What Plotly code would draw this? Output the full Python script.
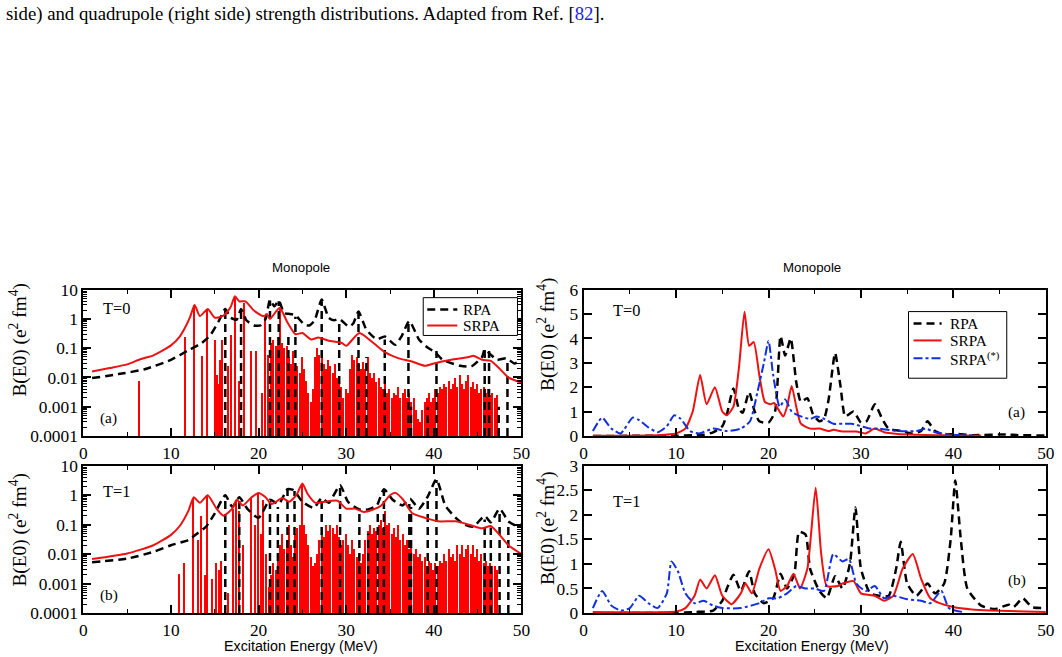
import plotly.graph_objects as go

# Figure size; the page photographed adds the browser's 8px body margin and is
# then fitted back to 1062x657, so layout positions (given in final picture
# pixels) are mapped through that transform.
W, H = 1062, 657
BODY_MARGIN = 8
KX = (W + 2 * BODY_MARGIN) / W
KY = (H + 2 * BODY_MARGIN) / H
FS = (KX + KY) / 2  # font compensation
X_NUDGE = 2

# ---------------- data ----------------
ENERGY_TICKS = [0, 10, 20, 30, 40, 50]
LOG_TICKVALS = [1e-4, 1e-3, 1e-2, 1e-1, 1, 10]
LOG_TICKTEXT = ["0.0001", "0.001", "0.01", "0.1", "1", "10"]
LIN_A_TICKS = [0, 1, 2, 3, 4, 5, 6]
LIN_B_TICKS = [0, 0.5, 1, 1.5, 2, 2.5, 3]
LIN_B_TICKTEXT = ["0", "0.5", "1", "1.5", "2", "2.5", "3"]

# ---- left (a), T=0, log scale ----
LA_RPA_E = [1, 4, 7, 10, 12, 13.5, 14.5, 15.5, 16.2, 16.8, 17.5, 18.0, 18.6, 19.5, 20.2, 20.8, 21.3, 21.8,
            22.3, 22.9, 23.4, 24.2, 25.2, 25.8, 26.4, 27.2, 28.0, 28.6, 29.2, 30.3, 30.8, 31.4, 32.3, 33.5,
            34.4, 35.6, 36.3, 37.2, 38.3, 39.2, 40.2, 41.0, 43.0, 44.3, 45.5, 45.8, 46.5, 47.2, 48.3, 49.2, 50]
LA_RPA_B = [0.0095, 0.013, 0.019, 0.04, 0.085, 0.15, 0.28, 0.9, 2.2, 1.1, 0.95, 2.2, 0.9, 0.6, 0.6, 1.0, 4.5, 2.7,
            4.3, 1.6, 1.5, 1.35, 0.65, 0.6, 0.9, 4.6, 1.1, 0.9, 1.0, 0.55, 0.7, 1.8, 0.43, 0.2,
            0.25, 0.13, 0.25, 0.85, 0.2, 0.11, 0.07, 0.04, 0.025, 0.024, 0.05, 0.09, 0.06, 0.04, 0.045, 0.03, 0.04]
LA_SRPA_E = [1, 3, 5, 6.5, 8, 10, 11, 11.6, 12.2, 12.7, 13.3, 14.2, 15, 16, 16.8, 17.3, 17.8, 18.5, 19.5,
             20.5, 21.0, 21.3, 22.4, 23.3, 24.2, 25, 26, 26.8, 28, 29.5, 30, 31.5, 33, 34.5, 36, 37.5, 39,
             40, 42, 44, 44.5, 45.5, 46.5, 47.5, 48.5, 50]
LA_SRPA_B = [0.016, 0.021, 0.028, 0.042, 0.057, 0.125, 0.25, 0.5, 1.2, 3.0, 1.25, 2.2, 1.1, 1.3, 2.5, 6.0, 4.0,
             4.0, 1.9, 1.25, 1.4, 1.0, 2.4, 0.75, 0.3, 0.33, 0.2, 0.23, 0.18, 0.15, 0.12, 0.33, 0.16, 0.07,
             0.045, 0.035, 0.025, 0.03, 0.04, 0.05, 0.055, 0.04, 0.037, 0.02, 0.01, 0.0065]
LA_RPA_STATES_E = [16.2, 18.0, 21.3, 22.3, 23.4, 24.2, 27.2, 29.2, 31.4, 32.3, 34.4, 37.1, 37.4, 39.3, 40.3,
                   45.8, 46.3, 47.4, 48.4]
LA_RPA_STATES_B = [2.0, 2.0, 4.3, 4.0, 0.35, 1.2, 4.0, 0.9, 1.5, 0.05, 0.2, 0.85, 0.001, 0.001, 0.08,
                   0.09, 0.08, 0.001, 0.04]
LA_SRPA_STATES_E = [6.4, 11.7, 12.7, 13.6, 14.2, 15.1, 15.3, 15.5, 15.7, 15.9, 16.6, 16.9, 17.4, 17.8, 18.4,
                    19.2, 19.8, 20.4, 20.8, 21.1]
LA_SRPA_STATES_B = [0.008, 0.25, 3.0, 0.055, 2.0, 0.2, 0.012, 0.006, 0.04, 0.2, 0.025, 0.3, 5.5, 0.008, 3.5,
                    0.08, 0.08, 0.003, 1.2, 0.06]
DENSE_START = 21.25
DENSE_STEP = 0.25
LA_DENSE_B = [0.002, 0.15, 0.2, 0.12, 0.25, 2.2, 0.15, 0.1, 0.12, 0.05, 0.03, 0.08, 0.02, 0.025, 0.015, 0.05,
              0.02, 0.008, 0.003, 0.0015, 0.004, 0.05, 0.1, 0.06, 0.08, 0.03, 0.02, 0.04, 0.025, 0.015, 0.03,
              0.01, 0.006, 0.005, 0.002, 0.004, 0.003, 0.02, 0.06, 0.04, 0.05, 0.03, 0.02, 0.035, 0.02, 0.05,
              0.015, 0.01, 0.015, 0.007, 0.01, 0.005, 0.004, 0.006, 0.003, 0.004, 0.002, 0.003, 0.0025, 0.005,
              0.002, 0.003, 0.004, 0.002, 0.003, 0.0015, 0.002, 0.0008, 0.0004, 0.0003, 0.0008, 0.0015, 0.002,
              0.003, 0.0015, 0.002, 0.004, 0.003, 0.005, 0.004, 0.006, 0.005, 0.008, 0.004, 0.006, 0.01, 0.005,
              0.012, 0.006, 0.004, 0.008, 0.012, 0.005, 0.007, 0.004, 0.006, 0.003, 0.004, 0.005, 0.003, 0.004,
              0.0025, 0.003, 0.002, 0.0025]

# ---- left (b), T=1, log scale ----
LB_RPA_E = [1, 5, 8, 10, 12, 13, 14, 15, 16.2, 17, 17.8, 18.7, 20, 21.3, 22.3, 23.3, 24, 25, 26.3, 27.2, 28,
            29.3, 30.2, 31.5, 32.5, 33.5, 34.3, 35.3, 36.4, 37.3, 38.3, 39.3, 40.3, 41.3, 42.5, 43.5, 44.5,
            45.8, 46.5, 47.5, 48.5, 49.5, 50]
LB_RPA_B = [0.0053, 0.007, 0.012, 0.02, 0.03, 0.05, 0.085, 0.24, 1.0, 0.4, 0.85, 0.35, 0.17, 0.7, 0.5, 1.6, 1.5,
            0.6, 0.37, 0.8, 0.55, 2.2, 0.6, 0.33, 0.33, 0.45, 1.6, 0.7, 0.45, 0.75, 0.35, 0.9, 3.5, 0.45, 0.17,
            0.1, 0.085, 0.2, 0.12, 0.35, 0.13, 0.09, 0.1]
LB_SRPA_E = [1, 5, 8, 10, 11, 12, 12.6, 13.3, 14.2, 15.2, 16, 17, 17.5, 18.2, 19.2, 20, 20.8, 21.5, 22.7, 23.5,
             24.3, 25, 25.6, 26.5, 27.5, 29, 30, 31, 32, 33, 34, 35, 35.6, 36.5, 37.5, 39, 40.5, 42.5, 44,
             45.5, 46.5, 47.5, 48.5, 50]
LB_SRPA_B = [0.0068, 0.0105, 0.02, 0.045, 0.09, 0.3, 0.85, 0.55, 1.0, 0.35, 0.2, 0.35, 0.7, 0.45, 0.85, 1.2,
             0.85, 0.5, 0.8, 0.6, 1.0, 2.5, 1.1, 0.55, 0.6, 0.65, 0.35, 0.35, 0.27, 0.32, 0.45, 1.0, 1.2, 0.7,
             0.25, 0.17, 0.13, 0.13, 0.1, 0.075, 0.09, 0.045, 0.02, 0.01]
LB_RPA_STATES_E = [16.2, 17.8, 21.3, 22.2, 23.3, 24.1, 27.2, 29.3, 31.5, 32.5, 33.6, 34.3, 37.2, 37.4, 39.3,
                   40.3, 45.8, 46.5, 47.5, 48.5]
LB_RPA_STATES_B = [1.0, 0.85, 0.7, 0.4, 1.5, 1.4, 0.7, 2.0, 0.3, 0.05, 0.3, 1.5, 0.5, 0.4, 0.8,
                   3.3, 0.15, 0.08, 0.3, 0.1]
LB_SRPA_STATES_E = [11.0, 11.5, 12.6, 13.2, 13.5, 13.9, 14.2, 14.8, 15.2, 15.5, 15.8, 16.6, 17.1, 17.5, 17.8,
                    18.3, 19.2, 19.6, 20.0, 20.3, 20.6, 20.9]
LB_SRPA_STATES_B = [0.0022, 0.005, 0.85, 0.03, 0.2, 0.002, 1.0, 0.0015, 0.005, 0.003, 0.006, 0.0005, 0.35, 0.7,
                    0.3, 0.02, 0.8, 0.1, 1.1, 0.05, 0.7, 0.01]
LB_DENSE_B = [0.0008, 0.002, 0.005, 0.003, 0.01, 0.02, 0.05, 0.015, 0.03, 0.1, 0.02, 0.008, 0.05, 0.08, 0.1,
              2.3, 0.1, 0.05, 0.02, 0.008, 0.004, 0.005, 0.01, 0.03, 0.05, 0.04, 0.1, 0.06, 0.1, 0.08, 0.05,
              0.1, 0.04, 0.02, 0.03, 0.05, 0.02, 0.01, 0.03, 0.015, 0.008, 0.01, 0.005, 0.01, 0.03, 0.06, 0.1,
              0.05, 0.08, 0.06, 0.1, 0.15, 0.08, 0.3, 0.1, 0.12, 0.05, 0.08, 0.04, 0.1, 0.03, 0.05, 0.02, 0.03,
              0.015, 0.02, 0.01, 0.015, 0.008, 0.01, 0.006, 0.008, 0.004, 0.006, 0.005, 0.003, 0.005, 0.004,
              0.006, 0.005, 0.01, 0.006, 0.015, 0.008, 0.01, 0.006, 0.02, 0.01, 0.02, 0.008, 0.015, 0.02, 0.01,
              0.02, 0.008, 0.015, 0.006, 0.01, 0.005, 0.006, 0.004, 0.005, 0.004, 0.004, 0.003]

# ---- right (a), T=0, linear ----
RA_RPA_E = [1, 10, 12, 13, 14, 15, 15.5, 16.2, 16.8, 17.2, 17.9, 18.5, 19, 20, 20.7, 21.3, 21.8, 22.4, 23, 23.5,
            24.2, 24.8, 25.5, 26, 26.5, 27.2, 27.8, 28.3, 29.2, 30, 30.6, 31.5, 32.3, 33, 34.4, 35.5, 36.5, 37.2,
            38, 39, 40.3, 42, 45.8, 47, 50]
RA_RPA_B = [0.0, 0.01, 0.03, 0.05, 0.15, 0.4, 0.9, 1.95, 1.1, 0.95, 1.8, 1.0, 0.6, 0.55, 1.0, 4.1, 3.3, 4.0, 2.2,
            1.4, 1.55, 0.9, 0.6, 0.7, 1.5, 3.4, 2.0, 0.8, 1.0, 0.55, 0.6, 1.3, 0.7, 0.3, 0.2, 0.1, 0.2, 0.6, 0.2,
            0.05, 0.08, 0.03, 0.06, 0.03, 0.02]
RA_SRPA_E = [1, 8, 10, 11, 11.8, 12.6, 13.3, 14.2, 15, 15.5, 16.2, 16.8, 17.4, 17.9, 18.4, 19, 19.6, 20.2, 20.6,
             21.2, 21.6, 22, 22.5, 23, 23.5, 24.5, 25.5, 26.5, 27, 28, 29.5, 30.5, 31.5, 32.5, 34, 36, 38, 40, 43]
RA_SRPA_B = [0.01, 0.03, 0.1, 0.3, 1.0, 2.5, 1.3, 2.0, 1.0, 0.85, 1.2, 2.8, 5.1, 3.7, 3.85, 2.5, 1.4, 1.3, 1.35,
             1.0, 0.8, 1.2, 2.05, 1.2, 0.5, 0.3, 0.3, 0.2, 0.25, 0.18, 0.18, 0.1, 0.3, 0.15, 0.08, 0.05, 0.03,
             0.02, 0.01]
RA_SRPAS_E = [1, 2, 3, 4, 5.3, 6, 7, 8, 9, 9.8, 10.5, 11.5, 12.5, 14, 15.5, 17, 18, 18.8, 19.5, 20, 20.5, 21.2,
              21.8, 22.5, 23.5, 24.5, 25.2, 26, 27, 28, 29, 30, 31, 32, 34, 36, 37, 38, 40, 42]
RA_SRPAS_B = [0.2, 0.75, 0.3, 0.1, 0.75, 0.65, 0.35, 0.15, 0.4, 0.85, 0.7, 0.2, 0.1, 0.3, 0.2, 0.3, 0.6, 1.8, 3.0,
              3.9, 2.5, 1.2, 1.5, 1.0, 0.8, 0.7, 0.8, 0.7, 0.5, 0.5, 0.5, 0.4, 0.3, 0.3, 0.2, 0.2, 0.3, 0.15,
              0.05, 0.02]

# ---- right (b), T=1, linear ----
RB_RPA_E = [1, 10, 12, 14, 15, 15.5, 16.2, 17, 17.9, 18.5, 19.5, 20.5, 21.3, 22, 22.8, 23.3, 24, 24.5, 25.5,
            26.3, 27.2, 28, 28.8, 29.4, 30, 31, 32, 33, 33.8, 34.3, 35, 36, 37.2, 38, 39, 39.7, 40.2, 40.8,
            41.5, 43, 44.5, 46, 46.5, 47.5, 48.5, 50]
RB_RPA_B = [0.0, 0.0, 0.02, 0.05, 0.25, 0.5, 0.78, 0.45, 0.85, 0.4, 0.2, 0.3, 0.8, 0.5, 0.8, 1.65, 1.6, 0.9,
            0.45, 0.3, 0.75, 0.5, 1.0, 2.15, 0.9, 0.4, 0.35, 0.35, 0.9, 1.45, 0.6, 0.35, 0.6, 0.4, 0.6, 1.5,
            2.7, 1.5, 0.5, 0.15, 0.08, 0.17, 0.12, 0.3, 0.12, 0.1]
RB_SRPA_E = [1, 10, 11, 12, 12.6, 13.3, 14.2, 15, 16, 17, 17.5, 18.2, 19, 20, 20.7, 21.3, 22, 22.7, 23.4, 24.2,
             25.1, 25.7, 26.3, 27.5, 28, 29.2, 30, 31.5, 32.5, 33.5, 34.5, 35.6, 36.5, 37.5, 38.5, 40, 42, 44,
             50]
RB_SRPA_B = [0.02, 0.03, 0.1, 0.35, 0.68, 0.5, 0.77, 0.35, 0.18, 0.4, 0.6, 0.4, 0.9, 1.3, 0.9, 0.45, 0.55, 0.8,
             0.5, 0.9, 2.55, 1.2, 0.55, 0.55, 0.6, 0.65, 0.4, 0.35, 0.25, 0.35, 0.9, 1.2, 0.7, 0.3, 0.2, 0.12,
             0.07, 0.05, 0.02]
RB_SRPAS_E = [1, 2, 3, 4, 5, 6, 7, 8, 9, 9.5, 10.2, 11, 12, 13, 14, 15, 17, 19, 20, 21, 22, 23, 24, 25, 26, 27,
              28, 28.7, 29.5, 30.5, 31.5, 32.5, 33.5, 35, 36.5, 37.5, 38.7, 39.5, 41]
RB_SRPAS_B = [0.1, 0.45, 0.15, 0.05, 0.1, 0.35, 0.2, 0.1, 0.4, 1.05, 0.85, 0.4, 0.2, 0.25, 0.15, 0.1, 0.1, 0.2,
              0.3, 0.3, 0.4, 0.55, 0.5, 0.5, 0.45, 1.2, 1.05, 1.1, 0.6, 0.45, 0.55, 0.3, 0.35, 0.28, 0.25, 0.2,
              0.45, 0.1, 0.02]

LEFT_LEGEND = ["RPA", "SRPA"]
RIGHT_LEGEND = ["RPA", "SRPA", "SRPA<sup>(*)</sup>"]

# ---------------- styling ----------------
SERIF = "Liberation Serif"
SANS = "Liberation Sans"
BLACK_DASH = "8px,5px"
RED = "#ee1111"
BLUE = "#1030e0"
LOG_BOTTOM = 1e-4
SMOOTH = 0.55


def fx(px):
    return ((px + X_NUDGE) * KX - BODY_MARGIN) / W


def fy(py):
    return 1 - (py * KY - BODY_MARGIN) / H


def fsz(s):
    return round(s * FS, 2)


LEFT_DOM = [fx(85), fx(522)]
RIGHT_DOM = [fx(584), fx(1045)]
TOP_DOM = [fy(437), fy(290)]
BOT_DOM = [fy(615), fy(467)]

fig = go.Figure()


def curve(xa, ya, e, b, name, color, width, dash):
    fig.add_trace(go.Scatter(x=e, y=b, mode="lines", name=name, xaxis=xa, yaxis=ya, showlegend=False,
                             line=dict(color=color, width=width, dash=dash, shape="spline", smoothing=SMOOTH)))


def add_states(xa, ya, energies, values):
    xs, ys = [], []
    for e, b in zip(energies, values):
        xs += [e, e, None]
        ys += [LOG_BOTTOM, b, None]
    fig.add_trace(go.Scatter(x=xs, y=ys, mode="lines", xaxis=xa, yaxis=ya, showlegend=False,
                             line=dict(color="black", width=2.5, dash=BLACK_DASH), hoverinfo="skip"))


def add_log_panel(xa, ya, s_e, s_b, dense_b, r_e, r_b, rpa_e, rpa_b, srpa_e, srpa_b):
    dense_e = [DENSE_START + DENSE_STEP * i for i in range(len(dense_b))]
    fig.add_trace(go.Bar(x=list(s_e) + dense_e, y=list(s_b) + list(dense_b), width=0.17,
                         marker=dict(color="#ff0000", line=dict(width=0)), xaxis=xa, yaxis=ya,
                         showlegend=False, name="SRPA states"))
    add_states(xa, ya, r_e, r_b)
    curve(xa, ya, rpa_e, rpa_b, "RPA", "black", 2.5, BLACK_DASH)
    curve(xa, ya, srpa_e, srpa_b, "SRPA", RED, 2, "solid")


def add_lin_panel(xa, ya, rpa_e, rpa_b, srpa_e, srpa_b, ss_e, ss_b):
    curve(xa, ya, rpa_e, rpa_b, "RPA", "black", 2.5, BLACK_DASH)
    curve(xa, ya, srpa_e, srpa_b, "SRPA", RED, 2, "solid")
    curve(xa, ya, ss_e, ss_b, "SRPA(*)", BLUE, 2, "dashdot")


add_log_panel("x", "y", LA_SRPA_STATES_E, LA_SRPA_STATES_B, LA_DENSE_B, LA_RPA_STATES_E, LA_RPA_STATES_B,
              LA_RPA_E, LA_RPA_B, LA_SRPA_E, LA_SRPA_B)
add_log_panel("x2", "y2", LB_SRPA_STATES_E, LB_SRPA_STATES_B, LB_DENSE_B, LB_RPA_STATES_E, LB_RPA_STATES_B,
              LB_RPA_E, LB_RPA_B, LB_SRPA_E, LB_SRPA_B)
add_lin_panel("x3", "y3", RA_RPA_E, RA_RPA_B, RA_SRPA_E, RA_SRPA_B, RA_SRPAS_E, RA_SRPAS_B)
add_lin_panel("x4", "y4", RB_RPA_E, RB_RPA_B, RB_SRPA_E, RB_SRPA_B, RB_SRPAS_E, RB_SRPAS_B)

tickfont = dict(family=SERIF, size=fsz(17), color="black")
common = dict(showline=True, linecolor="black", linewidth=2, mirror="ticks", ticks="inside", ticklen=8,
              tickwidth=1.5, tickcolor="black", showgrid=False, zeroline=False, tickfont=tickfont)


def xaxis(dom, anchor):
    return dict(common, domain=dom, anchor=anchor, range=[0, 50], tickvals=ENERGY_TICKS,
                minor=dict(ticks="inside", ticklen=4, dtick=5, tick0=0, tickcolor="black", tickwidth=1.2))


def logy(dom, anchor):
    return dict(common, domain=dom, anchor=anchor, type="log", range=[-4, 1], tickvals=LOG_TICKVALS,
                ticktext=LOG_TICKTEXT,
                minor=dict(ticks="inside", ticklen=4, dtick="D1", tickcolor="black", tickwidth=1.2))


ann = []
shapes = []


def text(x, y, s, size=17, family=SERIF, xanchor="center", angle=0, color="black"):
    ann.append(dict(x=fx(x), y=fy(y), xref="paper", yref="paper", text=s, showarrow=False, xanchor=xanchor,
                    yanchor="middle", textangle=angle, font=dict(family=family, size=fsz(size), color=color)))


def legend_box(x0, y0, x1, y1, sx0, sx1, tx, rows, labels, styles):
    shapes.append(dict(type="rect", xref="paper", yref="paper", x0=fx(x0), x1=fx(x1), y0=fy(y1), y1=fy(y0),
                       line=dict(color="black", width=1), fillcolor="white", layer="above"))
    for ry, lab, (col, dash, wid) in zip(rows, labels, styles):
        shapes.append(dict(type="line", xref="paper", yref="paper", x0=fx(sx0), x1=fx(sx1), y0=fy(ry),
                           y1=fy(ry), line=dict(color=col, width=wid, dash=dash), layer="above"))
        text(tx, ry, lab, size=15, xanchor="left")


STY_RPA = ("black", BLACK_DASH, 2.5)
STY_SRPA = (RED, "solid", 2)
STY_SRPAS = (BLUE, "dashdot", 2)
legend_box(424, 298, 518, 336, 428, 458, 462, [310, 326], LEFT_LEGEND, [STY_RPA, STY_SRPA])
legend_box(908, 312, 1006, 379, 913, 941, 947, [324, 341, 359], RIGHT_LEGEND, [STY_RPA, STY_SRPA, STY_SRPAS])

text(6, 13, "side) and quadrupole (right side) strength distributions. Adapted from Ref. "
            "[<span style='color:#2020ee'>82</span>].", size=18.4, xanchor="left")
text(302, 268, "Monopole", size=13, family=SANS)
text(812, 268, "Monopole", size=13, family=SANS)
text(302, 648, "Excitation Energy (MeV)", size=14, family=SANS)
text(812, 648, "Excitation Energy (MeV)", size=14, family=SANS)
ytitle = "B(E0) (e<sup>2</sup> fm<sup>4</sup>)"
text(20, 340, ytitle, size=19, angle=-90)
text(20, 531, ytitle, size=19, angle=-90)
text(547, 335, ytitle, size=19, angle=-90)
text(547, 530, ytitle, size=19, angle=-90)
text(103, 309, "T=0", size=16, xanchor="left")
text(100, 419, "(a)", size=15, xanchor="left")
text(103, 493, "T=1", size=16, xanchor="left")
text(100, 597, "(b)", size=15, xanchor="left")
text(611, 311, "T=0", size=16, xanchor="left")
text(1005, 413, "(a)", size=15, xanchor="left")
text(611, 503, "T=1", size=16, xanchor="left")
text(1005, 582, "(b)", size=15, xanchor="left")

fig.update_layout(
    width=W, height=H, autosize=False, margin=dict(l=0, r=0, t=0, b=0),
    paper_bgcolor="white", plot_bgcolor="white", bargap=0, showlegend=False,
    xaxis=xaxis(LEFT_DOM, "y"), yaxis=logy(TOP_DOM, "x"),
    xaxis2=xaxis(LEFT_DOM, "y2"), yaxis2=logy(BOT_DOM, "x2"),
    xaxis3=xaxis(RIGHT_DOM, "y3"),
    yaxis3=dict(common, domain=TOP_DOM, anchor="x3", range=[0, 6], tickvals=LIN_A_TICKS),
    xaxis4=xaxis(RIGHT_DOM, "y4"),
    yaxis4=dict(common, domain=BOT_DOM, anchor="x4", range=[0, 3], tickvals=LIN_B_TICKS, ticktext=LIN_B_TICKTEXT),
    annotations=ann, shapes=shapes,
)

fig.write_html("out.html")
